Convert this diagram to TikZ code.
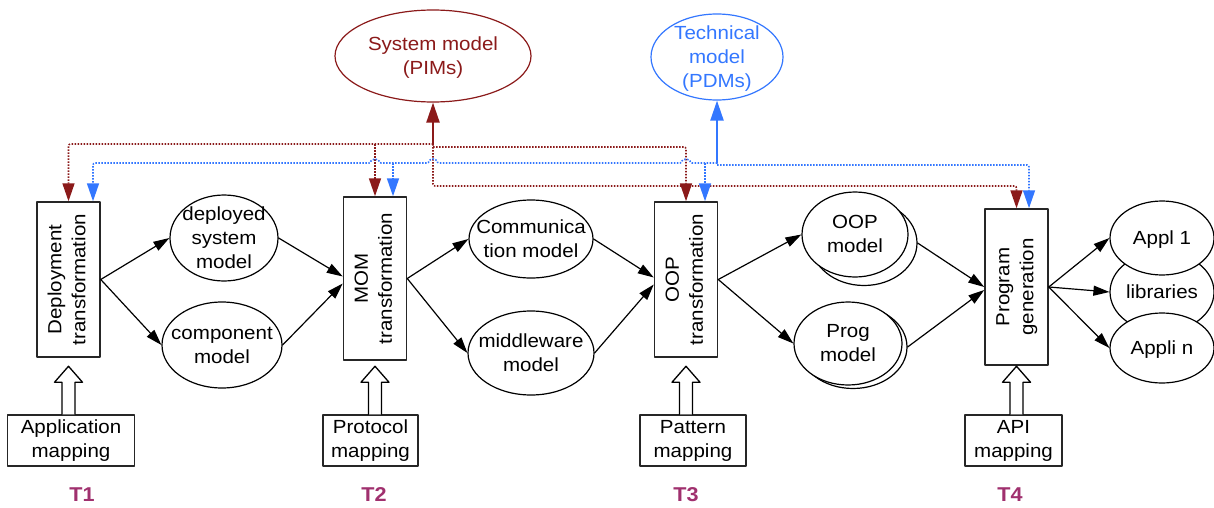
\documentclass[tikz,border=0pt]{standalone}
\usepackage{fontspec}
\setmainfont{Liberation Sans}[FakeStretch=1.08]
\usepackage{graphicx}
\usetikzlibrary{arrows.meta,shapes.geometric,calc}
\definecolor{pimred}{RGB}{139,26,26}
\definecolor{pdmblue}{RGB}{51,119,255}
\definecolor{tmark}{RGB}{160,48,110}
\newcommand\ovaltext[1]{\raisebox{-0.3em}[0pt][0pt]{\makebox[0pt]{\begin{tabular}{@{}c@{}}#1\end{tabular}}}}
\newcommand\boxtext[1]{\rotatebox{90}{\begin{tabular}{@{}c@{}}#1\end{tabular}}}
\newcommand\hollowin[2]{\draw[line width=1.3pt,fill=white] ($(#1.north -| #2.south)+(-6.5,0)$) -- ++(0,-32) -- ++(-7.5,0) -- ($(#1.north -| #2.south)+(0,-48)$) -- ++(14,16) -- ++(-7.5,0) -- ++(0,32);}

\begin{document}
\begin{tikzpicture}[x=1pt,y=-1pt,line cap=round,line join=round,
  every node/.style={inner sep=0pt,font=\fontsize{19}{24}\selectfont},
  model/.style={ellipse,draw,line width=1.2pt,fill=white},
  trans/.style={rectangle,draw=black!85,line width=1.5pt,minimum width=63pt},
  mapbox/.style={rectangle,draw=black!85,line width=1.5pt,minimum height=51pt,align=center},
  flow/.style={line width=1.2pt,-{Triangle[length=16pt,width=10pt]}},
  reddot/.style={pimred,line width=1.6pt,line cap=butt,dash pattern=on 1.5pt off 1.5pt,rounded corners=2pt,-{Triangle[length=18pt,width=12pt]}},
  bluedot/.style={pdmblue,line width=1.6pt,line cap=butt,dash pattern=on 1.5pt off 1.5pt,rounded corners=2pt,-{Triangle[length=18pt,width=12pt]}},
  lift/.style={line width=2.2pt,-{Triangle[length=20pt,width=13pt]}},
  tlabel/.style={tmark,font=\fontsize{20}{24}\selectfont\bfseries}]
  \path[fill=white] (0,0) rectangle (1214,508);
  \useasboundingbox (0,0) rectangle (1214,508);

  \node[model,draw=pimred,text=pimred,minimum width=196pt,minimum height=92pt] (sys) at (433,56) {\ovaltext{System model\\(PIMs)}};
  \node[model,draw=pdmblue,text=pdmblue,minimum width=132pt,minimum height=86pt] (tech) at (717,57) {\ovaltext{Technical\\model\\(PDMs)}};

  \node[trans,minimum height=155pt] (deploy) at (68.5,279.5) {\boxtext{Deployment\\transformation}};
  \node[trans,minimum height=163pt] (mom) at (375,278.5) {\boxtext{MOM\\transformation}};
  \node[trans,minimum height=155pt] (oop) at (686,279.5) {\boxtext{OOP\\transformation}};
  \node[trans,minimum height=156pt] (prog) at (1016.5,287) {\boxtext{Program\\generation}};

  \node[model,minimum width=108pt,minimum height=86pt] (dsm) at (224,238) {\ovaltext{deployed\\system\\model}};
  \node[model,minimum width=120pt,minimum height=86pt] (comp) at (222,345) {\ovaltext{component\\model}};
  \node[model,minimum width=124pt,minimum height=78pt] (comm) at (531,239) {\ovaltext{Communica\\tion model}};
  \node[model,minimum width=126pt,minimum height=84pt] (mware) at (531,353) {\ovaltext{middleware\\model}};
  \node[model,minimum width=106pt,minimum height=85pt] (oopmb) at (864,243) {};
  \node[model,minimum width=106pt,minimum height=85pt] (oopm) at (855,234.5) {\ovaltext{OOP\\model}};
  \node[model,minimum width=108pt,minimum height=83pt] (progmb) at (853,347) {};
  \node[model,minimum width=108pt,minimum height=83pt] (progm) at (848,343.5) {\ovaltext{Prog\\model}};
  \node[model,minimum width=104pt,minimum height=80pt] (libs) at (1162,292) {\ovaltext{libraries}};
  \node[model,minimum width=104pt,minimum height=74pt] (appl1) at (1162,238) {\ovaltext{Appl 1}};
  \node[model,minimum width=104pt,minimum height=70pt] (appln) at (1162,348) {\ovaltext{Appli n}};

  \node[mapbox,minimum width=127pt] (appmap) at (71,440.5) {Application\\mapping};
  \node[mapbox,minimum width=95pt] (protmap) at (370.5,440.5) {Protocol\\mapping};
  \node[mapbox,minimum width=106pt] (patmap) at (693,440.5) {Pattern\\mapping};
  \node[mapbox,minimum width=97pt] (apimap) at (1013.5,440.5) {API\\mapping};

  \draw[flow] (deploy.east) -- (dsm.west);
  \draw[flow] (deploy.east) -- (comp.west);
  \draw[flow] (dsm.east) -- ([yshift=2pt]mom.west);
  \draw[flow] (comp.east) -- ([yshift=-5pt]mom.west);
  \draw[flow] (mom.east) -- (comm.west);
  \draw[flow] (mom.east) -- (mware.west);
  \draw[flow] (comm.east) -- ([yshift=2pt]oop.west);
  \draw[flow] (mware.east) -- ([yshift=-5pt]oop.west);
  \draw[flow] (oop.east) -- (oopm.west);
  \draw[flow] (oop.east) -- (progm.west);
  \draw[flow] (oopmb.east) -- ([yshift=0pt]prog.west);
  \draw[flow] (progmb.east) -- ([yshift=-3pt]prog.west);
  \draw[flow] (prog.east) -- (appl1.west);
  \draw[flow] (prog.east) -- (libs.west);
  \draw[flow] (prog.east) -- (appln.west);

  \coordinate (sysj) at (433,144);
  \coordinate (sysjb) at (433,147);
  \coordinate (redc) at (433,186);
  \coordinate (bluej) at (717,163);
  \coordinate (bluejr) at (717,165);
  \coordinate (bd) at ($(deploy.north)+(24.5,0)$);
  \coordinate (bm) at ($(mom.north)+(18,0)$);
  \coordinate (bo) at ($(oop.north)+(19,0)$);
  \coordinate (bp) at ($(prog.north)+(12.5,0)$);

  \draw[reddot] (sysj) -| (deploy.north);
  \draw[reddot] (mom.north |- sysj) -- (mom.north);
  \draw[reddot] (sysjb) -| (oop.north);
  \draw[reddot] (sysj) -- (redc) -| (prog.north);
  \draw[lift,pimred] (sysj) -- (sys.south);

  \draw[bluedot] (bluej) -- ($(oop.north |- bluej)+(4,0)$) arc[start angle=0,end angle=180,radius=4pt]
    -- ($(sysj |- bluej)+(4,0)$) arc[start angle=0,end angle=180,radius=4pt]
    -- ($(mom.north |- bluej)+(4,0)$) arc[start angle=0,end angle=180,radius=4pt] -| (bd);
  \draw[bluedot] (bm |- bluej) -- (bm);
  \draw[bluedot] (bo |- bluej) -- (bo);
  \draw[bluedot] (bluejr) -| (bp);
  \draw[lift,pdmblue] (bluej) -- (tech.south);

  \hollowin{appmap}{deploy}
  \hollowin{protmap}{mom}
  \hollowin{patmap}{oop}
  \hollowin{apimap}{prog}

  \node[tlabel] (t1) at (82,495) {T1};
  \node[tlabel] (t2) at (374,495) {T2};
  \node[tlabel] (t3) at (686,495) {T3};
  \node[tlabel] (t4) at (1010,495) {T4};
\end{tikzpicture}
\end{document}
